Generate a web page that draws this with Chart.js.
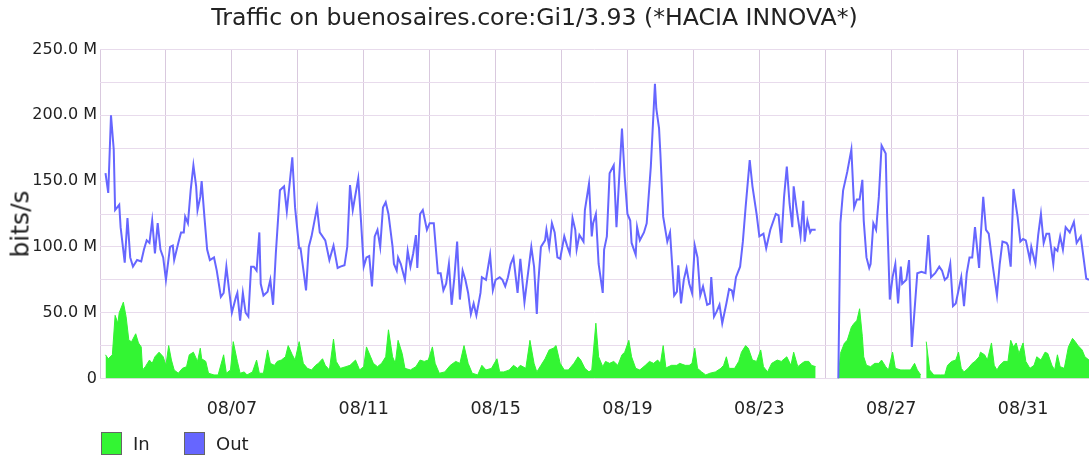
<!DOCTYPE html>
<html>
<head>
<meta charset="utf-8">
<title>Traffic on buenosaires.core:Gi1/3.93</title>
<script src="https://cdn.jsdelivr.net/npm/chart.js@4.4.1/dist/chart.umd.min.js"></script>
<style>
  html, body { margin: 0; padding: 0; background: #ffffff; }
  #wrap { position: relative; width: 1089px; height: 459px; overflow: hidden;
          font-family: "DejaVu Sans", sans-serif; color: #222; }
  #chart { position: absolute; left: 0; top: 0; }
  #title { position: absolute; left: 0; top: 6px; width: 1069px; text-align: center;
           font-size: 23.6px; line-height: 1; white-space: nowrap; }
  #ytitle { position: absolute; left: 20px; top: 224px; font-size: 25px; line-height: 1;
            white-space: nowrap; transform: translate(-50%, -50%) rotate(-90deg); }
  .leg { position: absolute; top: 432px; height: 23px; display: flex; align-items: center;
         font-size: 18px; line-height: 1; }
  .sw { width: 21px; height: 23px; box-sizing: border-box; border: 1px solid #666;
        margin-right: 11px; }
</style>
</head>
<body>
<div id="wrap">
  <canvas id="chart" width="1089" height="459"></canvas>
  <div id="title">Traffic on buenosaires.core:Gi1/3.93 (*HACIA INNOVA*)</div>
  <div id="ytitle">bits/s</div>
  <div class="leg" style="left:101px"><span class="sw" style="background:#33f533"></span>In</div>
  <div class="leg" style="left:184px"><span class="sw" style="background:#6666ff"></span>Out</div>
</div>
<script>
// Hourly offsets from 08/03 00:00, paired with the rate in Mbit/s.
// A null rate marks a gap in the polling.
const outTraffic = [
  [4,156],[6,141],[8,200],[10,174],[11,128],[14,132],[15,115],[18,88],[20,122],[22,92],
  [24,85],[27,90],[30,89],[32,98],[34,105],[36,103],[38,120],[40,95],[42,118],[44,98],
  [46,92],[48,75],[51,100],[53,101],[54,90],[57,103],[59,111],[61,111],[62,123],[64,118],
  [66,143],[68,162],[70,146],[71,128],[73,138],[74,150],[76,123],[78,98],[80,90],[83,92],
  [85,82],[88,62],[90,65],[92,85],[94,67],[96,50],[99,62],[100,65],[102,44],[104,65],
  [106,50],[108,47],[110,85],[112,85],[114,82],[116,111],[117,72],[119,63],[122,66],[124,75],
  [126,56],[128,95],[131,143],[134,146],[136,127],[140,168],[142,130],[145,99],[146,99],[150,67],
  [152,100],[154,108],[158,130],[160,111],[164,105],[167,90],[170,101],[173,84],[175,85],[178,86],
  [180,100],[182,147],[184,128],[188,152],[190,120],[192,85],[194,92],[196,93],[198,70],[200,108],
  [202,113],[204,100],[206,130],[208,134],[210,125],[213,100],[214,87],[216,82],[217,92],[219,87],
  [222,75],[224,97],[226,85],[228,95],[230,109],[231,84],[233,125],[235,128],[238,113],[240,118],
  [243,118],[246,80],[248,80],[250,67],[252,72],[254,87],[256,56],[258,77],[260,104],[262,60],
  [264,82],[266,75],[268,65],[270,49],[272,57],[274,48],[277,65],[278,77],[281,75],[284,94],
  [286,67],[288,75],[291,77],[293,75],[295,70],[297,77],[299,87],[301,92],[304,65],[306,91],
  [309,58],[311,75],[314,100],[316,85],[318,49],[319,72],[321,100],[324,105],[325,113],[327,100],
  [329,118],[331,111],[333,92],[335,91],[338,108],[340,101],[342,95],[344,122],[346,113],[347,98],
  [349,109],[352,104],[353,128],[356,148],[358,108],[359,118],[361,125],[363,87],[366,65],[367,98],
  [369,108],[371,156],[374,162],[376,115],[378,153],[380,190],[382,153],[384,125],[386,120],[387,103],
  [390,94],[391,115],[393,105],[396,111],[398,118],[401,161],[404,224],[405,205],[407,190],[408,170],
  [410,123],[413,104],[415,111],[418,63],[420,66],[421,86],[423,57],[425,75],[427,84],[429,72],
  [431,65],[433,101],[435,92],[437,63],[439,70],[442,56],[444,57],[445,77],[447,47],[449,51],
  [451,56],[453,42],[456,57],[458,68],[460,67],[461,62],[463,77],[466,85],[468,104],[470,130],
  [473,166],[475,146],[478,125],[480,108],[483,110],[485,99],[488,113],[492,125],[494,124],[496,103],
  [498,138],[500,161],[502,133],[504,115],[505,146],[507,130],[510,108],[512,135],[513,104],[515,120],
  [517,111],[518,113],[521,113],[530,null],[537.5,0],[539,118],[541,143],[544,157],[547,174],[549,130],
  [551,136],[553,136],[555,151],[556,120],[558,92],[560,84],[561,87],[563,118],[565,113],[567,138],
  [569,177],[572,171],[573,125],[575,60],[577,77],[579,87],[581,57],[583,85],[584,72],[587,75],
  [589,90],[591,24],[593,52],[595,80],[598,81],[601,80],[603,109],[605,77],[608,80],[611,85],
  [613,82],[615,75],[617,77],[619,87],[621,55],[623,57],[626,72],[627,77],[629,55],[631,80],
  [633,92],[635,92],[637,115],[640,84],[641,105],[643,138],[645,113],[647,110],[650,85],[653,63],
  [655,87],[657,104],[660,103],[661,101],[663,85],[665,144],[668,123],[670,104],[672,106],[674,105],
  [677,90],[678,100],[681,87],[683,109],[685,125],[687,103],[689,110],[691,110],[694,87],[695,99],
  [697,97],[699,108],[701,98],[703,115],[706,111],[709,119],[711,103],[714,108],[716,92],[718,76],
  [720,75]
];

const inTraffic = [
  [4,18],[6,15],[9,18],[11,48],[13,42],[14,50],[17,58],[19,47],[21,29],[23,28],
  [26,34],[28,27],[30,24],[31,6.5],[33,9],[36,14],[38,11.5],[40,16.5],[43,20],[46,16.5],
  [48,10],[50,25],[52,14],[54,6.5],[57,4],[60,7.7],[63,9],[65,18],[68,20],[71,13],
  [73,23],[74,15],[77,13],[79,4],[83,2.7],[86,2.7],[90,18],[92,4],[95,6.5],[97,28],
  [100,13],[102,4],[105,5],[107,2.7],[111,5],[114,14],[116,4],[119,4],[122,21.7],[124,11.5],
  [127,10],[129,13],[132,14],[135,16.5],[137,25],[140,18],[142,14],[145,28],[148,11.5],[151,7.7],
  [154,6.5],[157,10],[159,11.5],[162,15],[164,10],[167,6.5],[170,30],[172,13],[175,7.7],[179,9],
  [182,10],[186,14],[189,6.5],[192,9],[194,24],[197,16.5],[199,11.5],[202,9],[205,11.5],[208,16.5],
  [210,37],[213,16.5],[215,11.5],[217,29],[220,19],[222,7.7],[226,6.5],[230,9],[233,14],[236,13],
  [239,14],[242,24],[244,11.5],[247,4],[251,5],[255,10],[259,13],[262,11.5],[265,25],[268,11.5],
  [271,4],[275,2.7],[278,10],[281,6.5],[285,7.7],[289,15],[291,5],[294,5],[298,6.5],[301,10],
  [304,7.7],[306,10],[310,7.7],[313,29],[316,11.5],[318,5],[321,10],[324,15],[327,21.7],[330,23],
  [332,25],[335,11.5],[338,6.5],[341,6.5],[345,11.5],[348,16.5],[350,14],[353,7.7],[356,5],[358,6.5],
  [361,42],[363,16.5],[366,9],[368,13],[371,11.5],[374,13],[377,10],[380,18],[382,20],[385,29],
  [387,16.5],[390,7.7],[393,6.5],[397,10],[400,13],[403,11.5],[406,14],[408,11.5],[410,25],[412,8],
  [416,10],[420,10],[422,11.5],[426,10],[429,10],[431,11.5],[433,23],[435,7.7],[438,5],[441,2.7],
  [444,4],[448,5],[452,7.7],[454,10],[456,16.5],[458,7.7],[462,7.7],[465,13],[467,20],[470,25],
  [472,23],[475,14],[478,13],[481,21.7],[483,9],[486,5],[489,11.5],[493,14],[496,13],[500,16.5],
  [503,10],[505,20],[508,9],[511,11.5],[513,13],[516,13],[518,10],[521,9],[530,null],[537.5,0],
  [539,19],[542,27],[544,29],[547,39],[549,42],[551,44],[553,53],[555,32],[556,16.5],[558,10],
  [561,9],[564,11.5],[567,11.5],[569,14],[572,9],[574,6.5],[577,20],[579,7.7],[583,6.5],[586,6.5],
  [590,6.5],[593,11.5],[595,6.5],[597.5,2.7],[599.5,null],[601.5,28],[604,6.5],[607,2.7],[612,2.7],[615,2.7],
  [617,10],[620,13],[623,14],[625,20],[627,7.7],[629,5],[632,7.7],[635,11.5],[637,13],[640,16.5],
  [641,20],[644,18],[646,14],[649,27],[651,10],[653,6.5],[655,10],[658,13],[661,13],[663,29],
  [665,24],[667,27],[669,19],[672,27],[674,13],[677,7.7],[680,10],[682,16.5],[685,14],[688,20],
  [690,19],[693,10],[695,6.5],[697,18],[699,9],[702,7.7],[705,24],[708,30.5],[710,28],[712,25],
  [715,21.7],[717,16.5],[720,14]
];

// One x grid line every two days (48 h), labelled every four days.
const dateTicks = ['', '', '08/07', '', '08/11', '', '08/15', '', '08/19', '', '08/23', '', '08/27', '', '08/31', ''];
// One y grid line every 25 Mbit/s, labelled every 50 Mbit/s.
const rateTicks = ['0', '50.0 M', '100.0 M', '150.0 M', '200.0 M', '250.0 M'];

const IN_COLOR = '#33f533';
const OUT_COLOR = '#6666ff';

const toPoints = rows => rows.map(([h, mbit]) => ({ x: h, y: mbit === null ? null : mbit * 1e6 }));

Chart.defaults.font.family = '"DejaVu Sans", sans-serif';
Chart.defaults.color = '#222';

new Chart(document.getElementById('chart'), {
  type: 'line',
  data: {
    datasets: [
      {
        label: 'In',
        data: toPoints(inTraffic),
        borderColor: IN_COLOR,
        backgroundColor: IN_COLOR,
        borderWidth: 1,
        fill: 'origin',
        pointRadius: 0,
        tension: 0,
        spanGaps: false,
        order: 2
      },
      {
        label: 'Out',
        data: toPoints(outTraffic),
        borderColor: OUT_COLOR,
        borderWidth: 2,
        fill: false,
        pointRadius: 0,
        tension: 0,
        spanGaps: false,
        order: 1
      }
    ]
  },
  options: {
    responsive: false,
    animation: false,
    devicePixelRatio: 1,
    layout: { padding: { top: 49.5, right: 0, bottom: 0, left: 0 } },
    plugins: {
      legend: { display: false },
      title: { display: false },
      tooltip: { enabled: false }
    },
    scales: {
      x: {
        type: 'linear',
        min: 0,
        max: 720,
        ticks: {
          stepSize: 48,
          autoSkip: false,
          maxRotation: 0,
          padding: 20,
          font: { size: 17.5 },
          callback: v => dateTicks[Math.round(v / 48)] ?? ''
        },
        grid: { color: '#d9c9de', drawTicks: false, lineWidth: 1 },
        border: { display: false },
        afterFit: scale => {
          // the plot runs edge to edge: no side padding for the date labels
          scale.height = 80.5;
          scale.paddingLeft = 0;
          scale.paddingRight = 0;
        }
      },
      y: {
        min: 0,
        max: 250e6,
        ticks: {
          stepSize: 25e6,
          autoSkip: false,
          padding: 3,
          font: { size: 16 },
          callback: v => (v % 50e6 === 0 ? rateTicks[v / 50e6] : '')
        },
        grid: { color: '#e8dbec', drawTicks: false, lineWidth: 1 },
        border: { display: false },
        afterFit: scale => { scale.width = 100; }
      }
    }
  }
});
</script>
</body>
</html>
